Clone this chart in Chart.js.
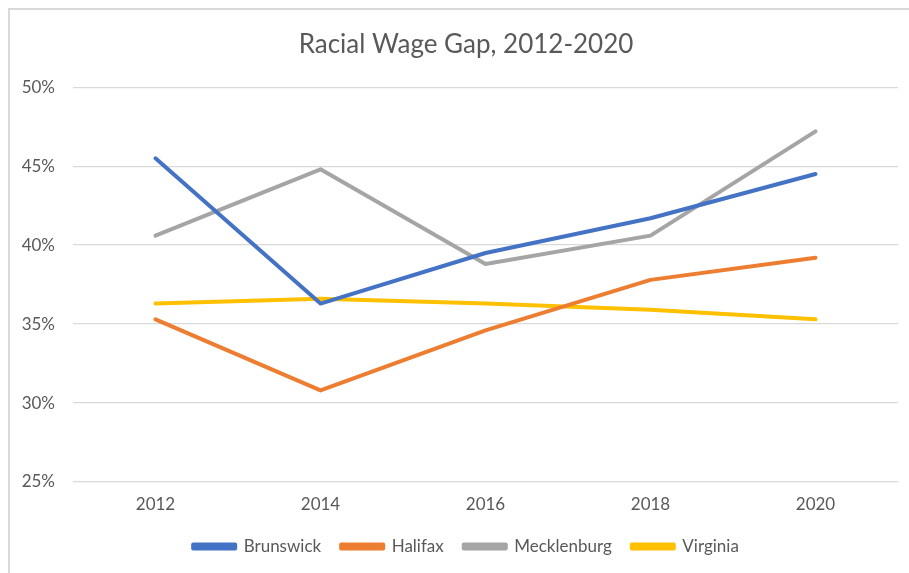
<!DOCTYPE html>
<html>
<head>
<meta charset="utf-8">
<script src="https://cdn.jsdelivr.net/npm/chart.js@4"></script>
<style>
    html, body { margin: 0; padding: 0; background: #fff; overflow: hidden; }
    #frame {
        position: absolute;
        left: 8px;
        top: 8px;
        border-top: 2px solid #d9d9d9;
        border-left: 2px solid #d9d9d9;
        width: 916px;
        height: 565px;
    }
    canvas { display: block; }
</style>
</head>
<body>
<div id="frame">
    <canvas id="wageChart" width="916" height="563"></canvas>
</div>
<script>
const years = ['2012', '2014', '2016', '2018', '2020'];
const brunswick = [45.5, 36.3, 39.5, 41.7, 44.5];
const halifax = [35.3, 30.8, 34.6, 37.8, 39.2];
const mecklenburg = [40.6, 44.8, 38.8, 40.6, 47.2];
const virginia = [36.3, 36.6, 36.3, 35.9, 35.3];

const FONT = 'Lato, "Open Sans", sans-serif';
const TEXT = '#595959';

// une série = une ligne
function serie(label, data, color) {
    return {
        label: label,
        data: data,
        borderColor: color,
        backgroundColor: color,
        borderWidth: 4,
        borderCapStyle: 'round',
        borderJoinStyle: 'round',
        pointRadius: 0,
        tension: 0
    };
}

const ctx = document.getElementById('wageChart').getContext('2d');
new Chart(ctx, {
    type: 'line',
    data: {
        labels: years,
        datasets: [
            serie('Brunswick', brunswick, '#4472C4'),
            serie('Halifax', halifax, '#ED7D31'),
            serie('Mecklenburg', mecklenburg, '#A5A5A5'),
            serie('Virginia', virginia, '#FFC000')
        ]
    },
    options: {
        responsive: false,
        animation: false,
        layout: {
            padding: { left: 0, right: 4, top: 0, bottom: 8 }
        },
        plugins: {
            title: {
                display: true,
                text: 'Racial Wage Gap, 2012-2020',
                color: TEXT,
                font: { family: FONT, size: 26, weight: 'normal' },
                padding: { top: 19, bottom: 27 }
            },
            legend: {
                position: 'bottom',
                labels: {
                    color: TEXT,
                    font: { family: FONT, size: 17 },
                    boxWidth: 42,
                    boxHeight: 4,
                    padding: 20
                }
            },
            tooltip: { enabled: false }
        },
        scales: {
            x: {
                offset: true,
                grid: { display: false, drawTicks: false },
                border: { display: false },
                ticks: {
                    color: TEXT,
                    font: { family: FONT, size: 17 },
                    padding: 12
                },
                afterFit: (scale) => { scale.height = 36; }
            },
            y: {
                min: 25,
                max: 50,
                grid: { color: '#d9d9d9', lineWidth: 1.3, drawTicks: false },
                border: { display: false },
                ticks: {
                    stepSize: 5,
                    color: TEXT,
                    font: { family: FONT, size: 17 },
                    padding: 18,
                    callback: (v) => v + '%'
                },
                afterFit: (scale) => { scale.width = 63; }
            },
            // axe vide à droite : garde la marge et recentre titre et légende
            yDroite: {
                position: 'right',
                grid: { display: false },
                border: { display: false },
                ticks: { display: false },
                afterFit: (scale) => { scale.width = 24; }
            }
        }
    }
});
</script>
</body>
</html>
